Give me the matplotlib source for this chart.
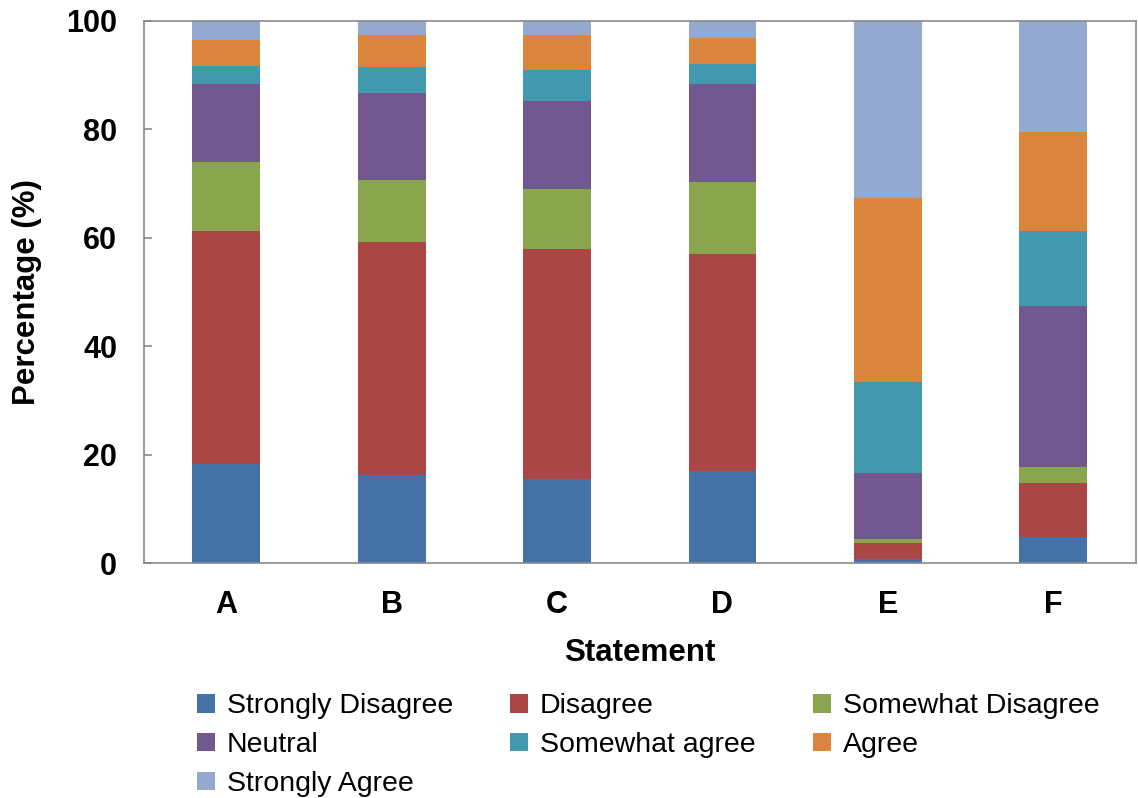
import matplotlib
matplotlib.use("Agg")
import matplotlib.pyplot as plt
import numpy as np

# Statements on the x axis
statements = ["A", "B", "C", "D", "E", "F"]

# Share of answers per statement (%), one list per answer category
strongly_disagree = [18.3, 16.3, 15.5, 17.0, 0.9, 4.9]
disagree = [43.0, 43.0, 42.4, 40.0, 2.8, 9.9]
somewhat_disagree = [12.7, 11.3, 11.2, 13.3, 0.8, 2.9]
neutral = [14.3, 16.2, 16.2, 18.0, 12.1, 29.8]
somewhat_agree = [3.4, 4.8, 5.7, 3.8, 16.9, 13.7]
agree = [4.8, 5.8, 6.5, 4.7, 33.8, 18.3]
strongly_agree = [3.5, 2.6, 2.5, 3.2, 32.7, 20.5]

kategorien = ["Strongly Disagree", "Disagree", "Somewhat Disagree", "Neutral",
              "Somewhat agree", "Agree", "Strongly Agree"]
werte_liste = [strongly_disagree, disagree, somewhat_disagree, neutral,
               somewhat_agree, agree, strongly_agree]
farben = ["#4572A7", "#AA4643", "#89A54E", "#71588F", "#4198AF", "#DB843D", "#93A9CF"]

plt.rcParams["font.family"] = ["Liberation Sans", "DejaVu Sans"]

fig = plt.figure(figsize=(11.38, 7.98), dpi=100)
ax = fig.add_axes([0.1261, 0.2939, 0.8721, 0.6798])

x = np.arange(len(statements))
bottom = np.zeros(len(statements))
handles = []
for name, werte, farbe in zip(kategorien, werte_liste, farben):
    bars = ax.bar(x, werte, width=0.41, bottom=bottom, color=farbe, label=name)
    handles.append(bars)
    bottom += np.array(werte)

ax.set_xlim(-0.5, len(statements) - 0.5)
ax.set_ylim(0, 100)
ax.set_yticks([0, 20, 40, 60, 80, 100])
ax.set_xticks(x)
ax.set_xticklabels(statements)

for spine in ax.spines.values():
    spine.set_color("#8a8a8a")
    spine.set_linewidth(1.2)

ax.tick_params(axis="y", direction="in", length=6, width=1.2, color="#8a8a8a",
               pad=19, labelsize=22)
ax.tick_params(axis="x", length=0, pad=19, labelsize=22)
for lbl in ax.get_xticklabels() + ax.get_yticklabels():
    lbl.set_fontweight("bold")

ax.set_ylabel("Percentage (%)", fontsize=22.5, fontweight="bold")
ax.set_xlabel("Statement", fontsize=22.5, fontweight="bold", va="top")
ax.yaxis.set_label_coords(-0.102, 0.5)
ax.xaxis.set_label_coords(0.5, -0.137)

# Legend reihenweise fuellen: matplotlib fuellt spaltenweise
reihenfolge = [0, 3, 6, 1, 4, 2, 5]
fig.legend([handles[i] for i in reihenfolge], [kategorien[i] for i in reihenfolge],
           loc="upper left", bbox_to_anchor=(0.1607, 0.149), ncol=3, frameon=False,
           fontsize=20.5, borderpad=0, handlelength=0.63, handleheight=0.63,
           handletextpad=0.42, columnspacing=2.0, labelspacing=0.45)

fig.savefig("out.png", dpi=100)
plt.close(fig)
